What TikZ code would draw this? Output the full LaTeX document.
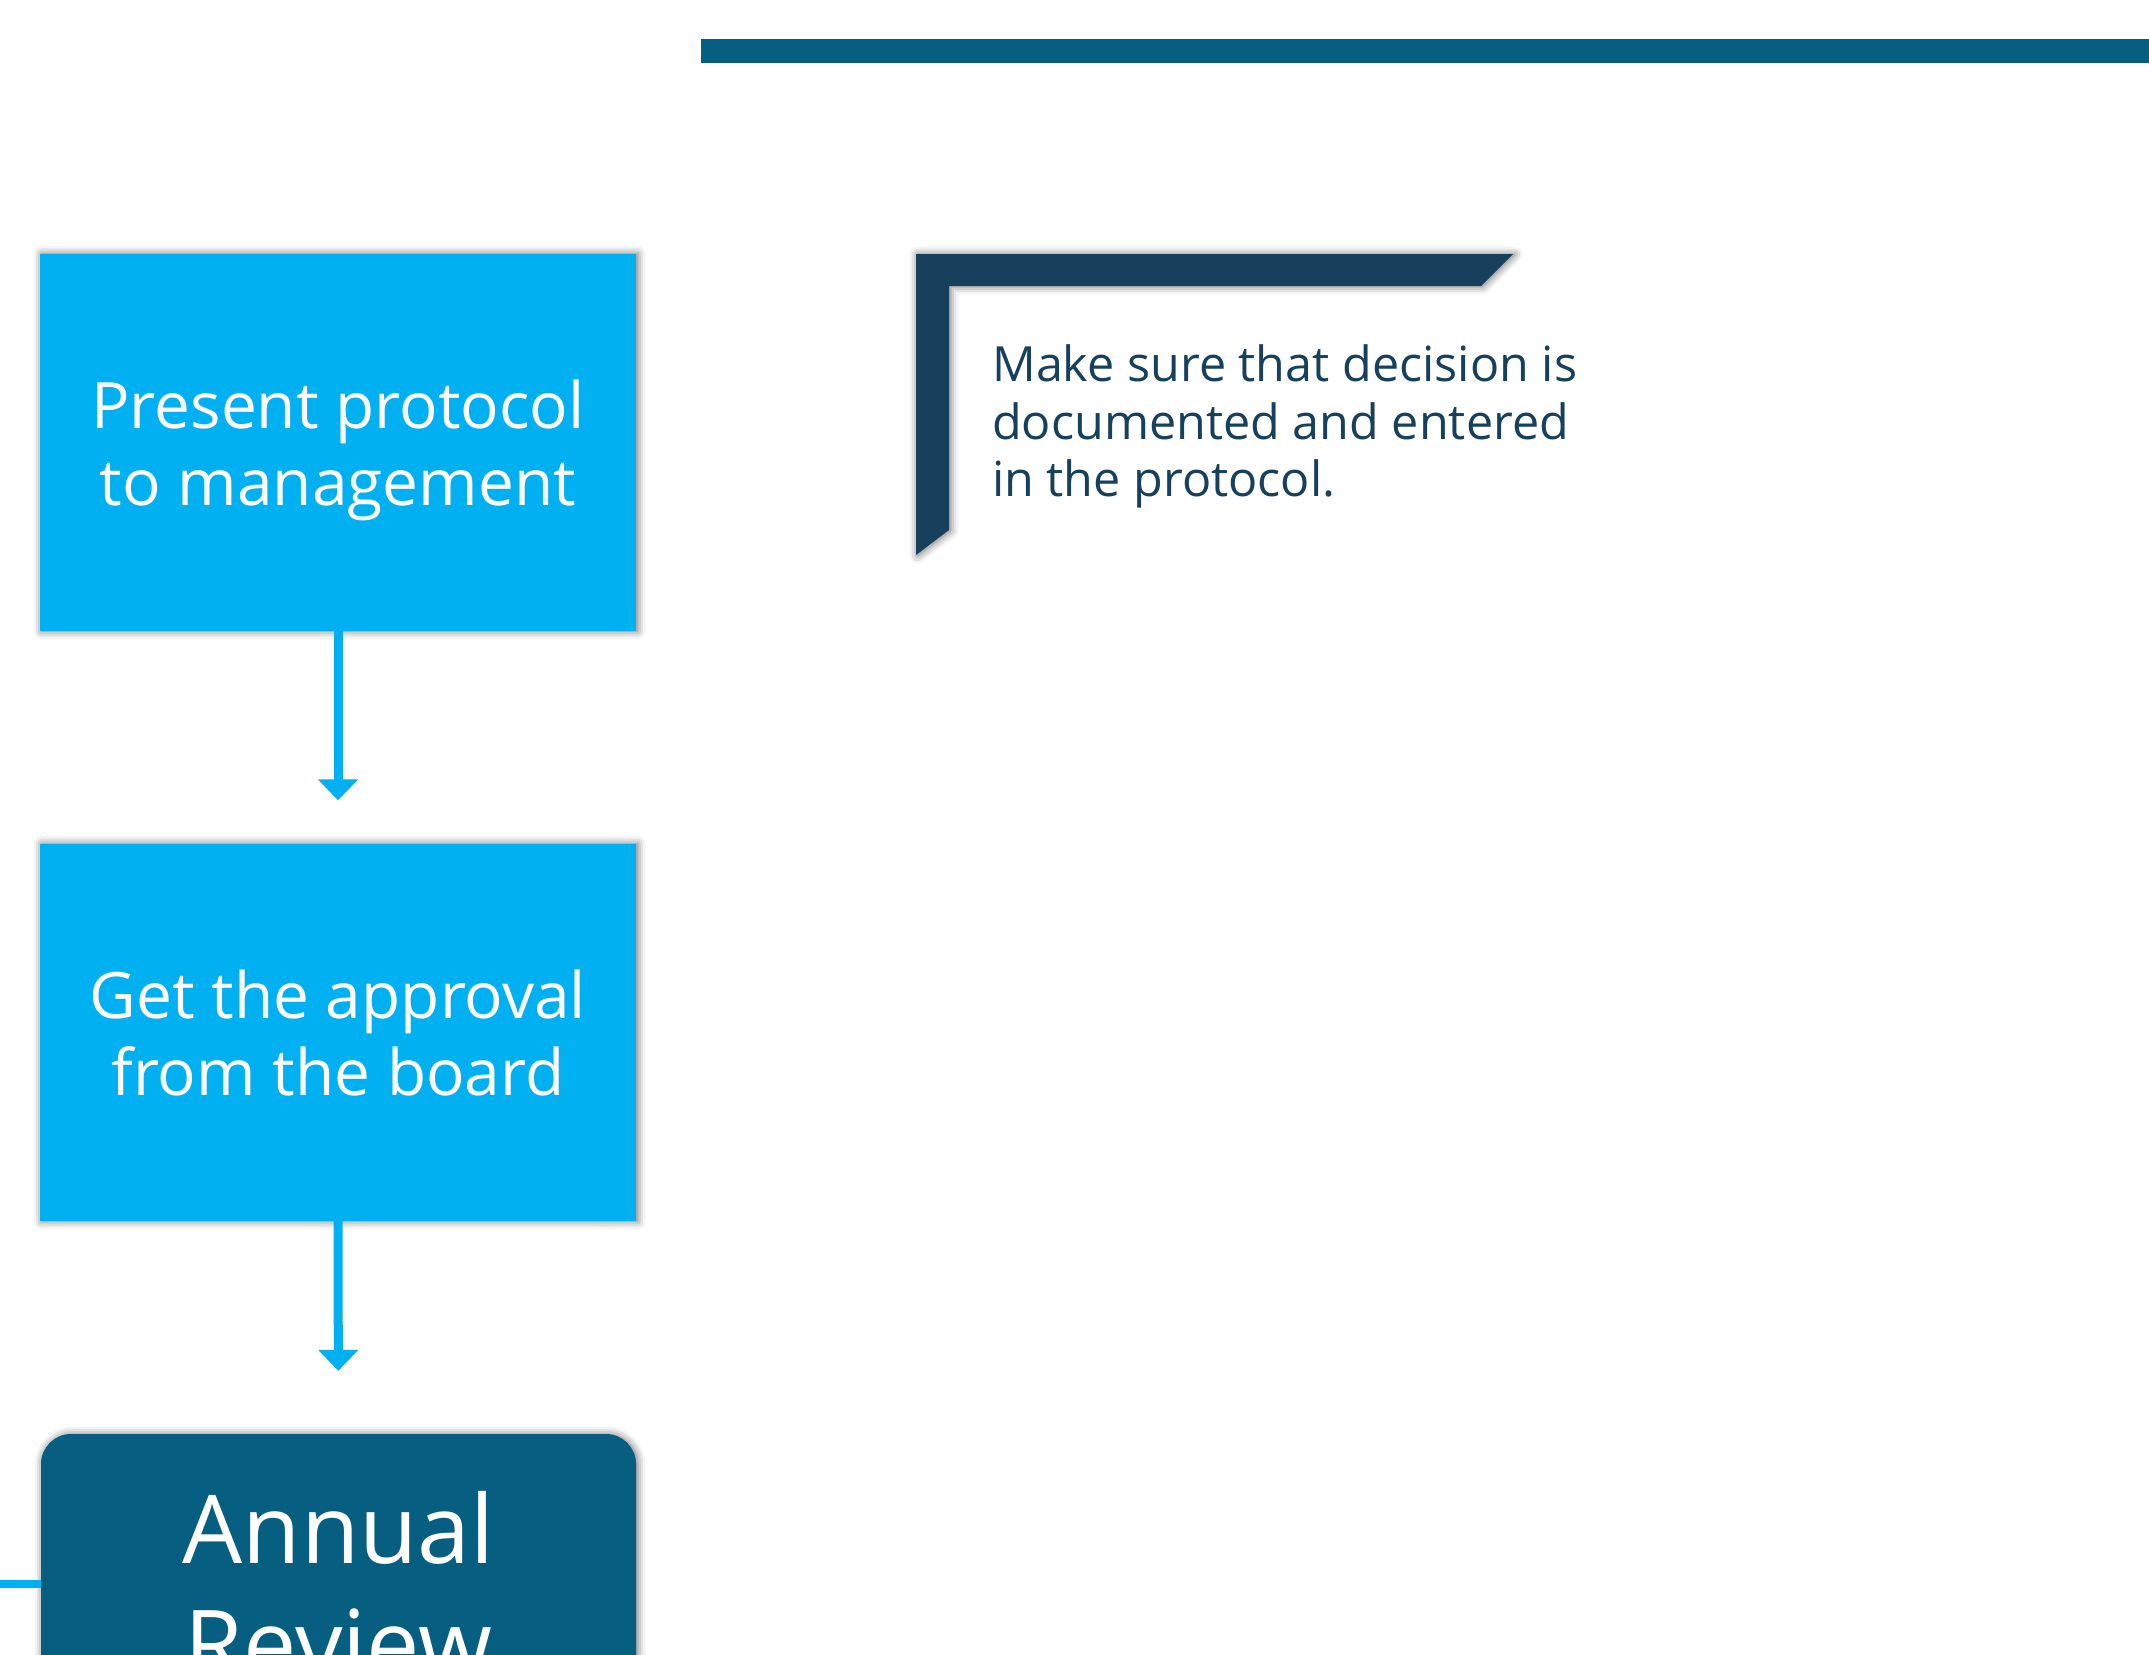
\documentclass[tikz,border=0pt]{standalone}
\usepackage{fontspec}
\setmainfont{Open Sans}
\usetikzlibrary{arrows.meta,shadows.blur}
\definecolor{lightblue}{HTML}{00B0F0}
\definecolor{teal}{HTML}{065E80}
\definecolor{navy}{HTML}{17405C}
\newcommand\mystrut[2]{\rule[-#2]{0pt}{\dimexpr#1+#2\relax}}
\tikzset{
  softshadow/.style={blur shadow={shadow xshift=1.5pt, shadow yshift=-0.5pt, shadow blur radius=8pt, shadow opacity=60}},
  stepbox/.style={rectangle, fill=lightblue, draw=none, minimum width=596pt, minimum height=377pt, inner sep=0pt, softshadow},
  reviewbox/.style={rectangle, fill=teal, draw=none, rounded corners=30pt, minimum width=595pt, minimum height=377pt, inner sep=0pt, softshadow},
  boxtext/.style={text=white, align=center, inner sep=0pt, font=\fontsize{64pt}{77pt}\selectfont},
  reviewtext/.style={text=white, align=center, inner sep=0pt, font=\fontsize{95pt}{115pt}\selectfont},
  notetext/.style={text=navy, align=left, inner sep=0pt, anchor=north west, font=\fontsize{48.5pt}{57.5pt}\selectfont},
  flowarrow/.style={draw=lightblue, line width=9pt, -{Triangle[width=39pt, length=21pt]}},
  sideline/.style={draw=lightblue, line width=8pt}
}
\begin{document}
\begin{tikzpicture}[x=1pt, y=-1pt]
\useasboundingbox (0,0) rectangle (2149,1654);
\clip (0,0) rectangle (2149,1654);
% top bar
\fill[teal] (701,39) rectangle (2149,63);
% steps
\node[stepbox] (b1) at (338,442) {};
\node[boxtext] (t1) at ([yshift=-8.5pt]b1.center) {\mystrut{48pt}{0pt}Present protocol\\to management\mystrut{0pt}{16pt}};
\node[stepbox] (b2) at (338,1032) {};
\node[boxtext] (t2) at ([yshift=-8.5pt]b2.center) {\mystrut{48pt}{0pt}Get the approval\\from the board\mystrut{0pt}{16pt}};
\node[reviewbox] (b3) at (338.5,1622.5) {};
\node[reviewtext] (t3) at (338.5,1596) {\mystrut{72pt}{0pt}Annual\\Review\mystrut{0pt}{23pt}};
% connectors
\draw[flowarrow, shorten >=43pt] (b1.south) -- (b2.north);
\draw[flowarrow, shorten >=63pt] (b2.south) -- (b3.north);
\coordinate (lin) at (0,1584);
\draw[sideline] (lin) -- (lin -| b3.west);
% bracket callout
\fill[navy, softshadow] (916,254) -- (1513,254) -- (1481,286) -- (949,286) -- (949,530) -- (916,555) -- cycle;
\node[notetext] (note) at (992,341.7) {\mystrut{40pt}{0pt}Make sure that decision is\\documented and entered\\in the protocol.};
\end{tikzpicture}
\end{document}
